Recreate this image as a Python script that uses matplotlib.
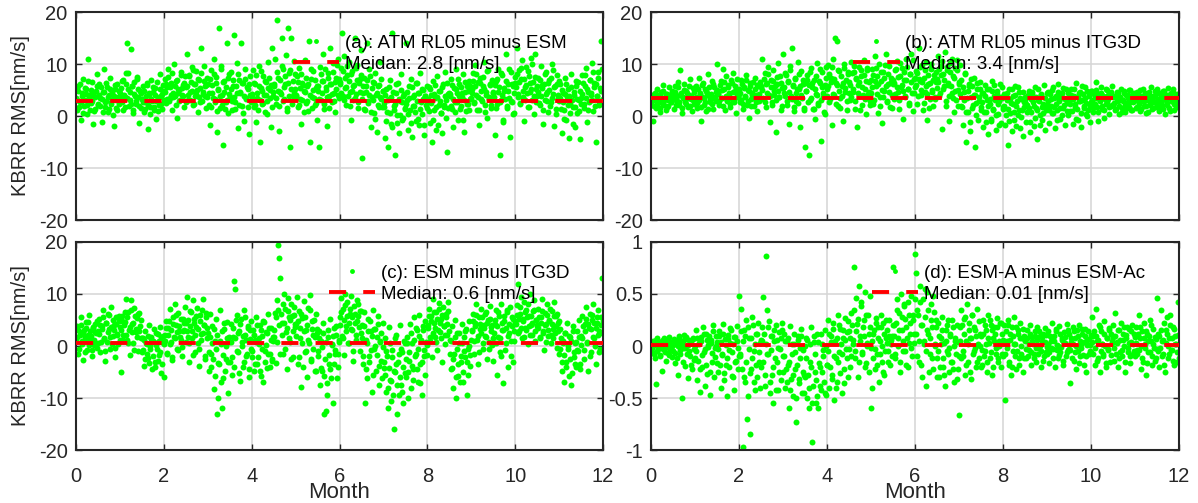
import numpy as np
import matplotlib
matplotlib.use("Agg")
import matplotlib.pyplot as plt
from matplotlib.lines import Line2D

plt.rcParams['font.family'] = ['Liberation Sans', 'DejaVu Sans']
plt.rcParams['axes.unicode_minus'] = False

month_ticks = [0, 2, 4, 6, 8, 10, 12]

# KBRR RMS differences over one year: two sample sets (am / pm), 20 samples
# per half month each. Panels a-c stored in 0.1 nm/s, panel d in 0.01 nm/s.
diff_atm_esm_am = [
    35, 12, 58, 27, -8, 44, 71, 19, 30, 52, 3, 110, 41, 25, 66, -15, 38, 14, 49, 80,
    22, 61, 34, -11, 47, 90, 18, 29, 55, 7, 40, 73, 26, 33, -20, 51, 16, 62, 37, 24,
    45, 28, 67, 12, 36, 83, 140, 52, 19, 31, 128, 58, 6, 42, 24, 71, 37, -14, 49, 15,
    33, 57, 8, 26, 64, -25, 41, 18, 70, 29, 47, 11, 53, -6, 35, 22, 81, 39, 14, 60,
    48, 72, 25, 56, 91, 34, 63, 12, 44, 100, 38, 67, -4, 52, 29, 85, 41, 59, 18, 76,
    55, 120, 31, 78, 46, 94, 22, 61, 39, 87, 50, 8, 69, 27, 130, 43, 97, 58, 15, 36,
    62, 21, -18, 89, 44, 110, 33, 75, -30, 52, 170, 15, 96, 40, -55, 68, 27, 140, 5, 81,
    37, 84, 12, 58, 155, 26, 101, -24, 70, 45, 140, 19, 63, -9, 91, 34, 52, -35, 77, 29,
    43, 88, 17, 61, -12, 35, 97, -50, 54, 23, 76, 41, 8, 66, 29, 104, 50, -21, 130, 38,
    57, 110, 24, 185, 73, -28, 46, 150, 90, 33, 61, 118, 15, 170, 82, -60, 150, 39, 105, 52,
    41, 76, 18, 93, 32, -16, 64, 49, 108, 25, 57, 10, 145, -50, 71, 36, 86, 22, 53, -8,
    48, -60, 95, 31, 67, 120, 14, 56, -19, 83, 39, 130, 62, 27, 101, 45, 7, 74, 110, 35,
    66, 92, 160, 38, 115, 54, 21, 79, 103, 47, -8, 86, 31, 60, 150, 42, 98, 15, 71, 127,
    -80, 44, 73, 12, 58, 140, 29, 91, -22, 36, 65, 5, 82, 40, -31, 57, 18, 104, 33, 49,
    25, -42, 51, 8, -60, 33, 70, -15, 160, 19, -75, 44, 2, 63, -33, 28, 80, -8, 39, 14,
    140, 31, -26, 57, 11, 72, -41, 36, 20, -9, 64, 45, -18, 83, 27, 3, 50, -37, 38, 16,
    29, 56, -14, 41, -50, 68, 12, 35, -27, 77, 22, 48, 5, -33, 61, 17, 84, 31, -70, 43,
    38, 71, 14, -22, 53, 27, 90, 45, -8, 62, 19, 36, 81, -30, 47, 9, 58, 24, 67, 33,
    51, 82, 26, 99, 40, 12, 65, -17, 74, 33, 57, 104, 21, 46, -4, 88, 37, 61, 15, 70,
    44, -36, 67, 23, 91, 55, -75, 31, 78, -12, 49, 120, 16, 62, 35, -41, 84, 27, 58, 6,
    63, 130, 42, 89, 25, 71, 108, 36, -9, 55, 94, 18, 77, 47, 112, 30, 66, 3, 120, 52,
    39, 73, 21, 96, 54, -15, 62, 31, 85, 46, 8, 69, 27, 100, 43, -20, 58, 14, 78, 35,
    28, 61, -33, 45, 12, 73, -8, 36, 52, -42, 24, 80, 17, 40, -22, 57, 5, 66, 31, -45,
    34, 79, 16, 58, 92, -12, 47, 26, 70, 41, 101, 9, 63, -50, 38, 85, 22, 54, 145, 30,
]
diff_atm_esm_pm = [
    31, 48, 17, 62, 26, 39, 5, 54, 43, 21, 68, 34, 12, 50, 29, 45, 9, 37, 58, 24,
    41, 19, 56, 32, 8, 47, 27, 63, 36, 14, 52, 23, 44, 2, 38, 59, 30, 11, 49, 35,
    53, 27, 70, 40, 18, 61, 35, 82, 46, 24, 57, 12, 66, 39, 29, 75, 51, 20, 44, 33,
    26, 49, 13, 38, 60, 22, 45, 4, 33, 55, 17, 41, 28, 66, 10, 36, 52, 24, 43, 31,
    47, 62, 33, 75, 28, 55, 41, 83, 36, 58, 21, 69, 44, 50, 31, 78, 53, 39, 64, 26,
    58, 40, 76, 31, 65, 49, 88, 24, 61, 43, 71, 36, 54, 82, 28, 47, 67, 38, 59, 73,
    44, 72, 18, 59, 35, 81, 26, 63, 9, 50, 38, 90, 22, 66, 47, 13, 55, 31, 74, 42,
    52, 28, 69, 37, 14, 58, 44, 80, 21, 47, 63, 6, 39, 72, 33, 55, 18, 61, 41, 26,
    36, 64, 21, 79, 45, 12, 57, 30, 86, 49, 25, 68, 40, 3, 53, 74, 34, 60, 17, 46,
    61, 35, 84, 48, 19, 70, 43, 96, 29, 56, 77, 10, 64, 38, 89, 51, 24, 67, 45, 80,
    38, 66, 22, 54, 81, 31, 59, 8, 47, 73, 28, 62, 41, 90, 16, 50, 35, 69, 25, 57,
    57, 33, 80, 45, 68, 24, 91, 50, 37, 74, 16, 62, 43, 85, 29, 66, 52, 98, 40, 71,
    62, 44, 87, 30, 73, 55, 96, 38, 67, 20, 81, 49, 58, 35, 92, 70, 26, 63, 46, 78,
    33, 58, 14, 47, 69, 25, 40, 76, 8, 53, 30, 64, -6, 44, 21, 60, 37, 71, 18, 49,
    18, 41, -9, 30, 55, 6, 36, -22, 47, 12, 24, 62, -14, 33, 2, 50, 27, -4, 42, 15,
    24, 47, 3, 35, -13, 56, 19, 40, 8, 63, 29, -5, 44, 14, 52, 32, -18, 38, 21, 58,
    32, 10, 51, 25, -8, 42, 60, 18, 36, -17, 48, 28, 6, 55, 22, 39, -3, 64, 15, 45,
    42, 20, 60, 33, 8, 51, 27, 71, 38, 14, 56, 45, -7, 30, 66, 24, 48, 11, 57, 35,
    44, 68, 25, 57, 80, 36, 12, 63, 48, 29, 75, 52, 7, 40, 86, 33, 59, 21, 66, 47,
    37, 60, 15, 72, 46, 26, 83, 41, -8, 54, 32, 67, 20, 49, 90, 29, 62, 4, 44, 75,
    55, 81, 36, 66, 24, 92, 49, 71, 30, 60, 45, 87, 18, 63, 52, 100, 39, 75, 27, 58,
    46, 25, 70, 38, 59, 12, 81, 43, 29, 64, 50, 20, 73, 35, 88, 55, 3, 61, 41, 67,
    35, 14, 50, 26, -6, 43, 62, 21, 38, 5, 55, 30, -15, 46, 18, 67, 33, 9, 48, 24,
    42, 63, 24, 78, 35, 51, 12, 69, 44, 30, 85, 56, 19, 61, 38, 74, 27, 49, 90, 33,
]

diff_atm_itg_am = [
    22, 41, -10, 33, 15, 52, 28, 37, 8, 46, 25, 60, 31, 12, 43, 19, 55, 35, 27, 48,
    38, 14, 57, 29, 66, 21, 88, 45, 5, 34, 62, 26, 49, 17, 40, 71, 32, 10, 53, 24,
    30, 58, 16, 74, 42, -10, 36, 63, 22, 51, 9, 45, 80, 27, 39, 68, 13, 55, 33, 47,
    100, 44, 21, 67, 35, 90, 52, 11, 76, 28, 59, 40, 18, 63, 82, 31, 48, 6, 71, 37,
    43, 26, 69, 14, 55, 37, 78, 22, 50, -3, 64, 32, 45, 19, 73, 40, 9, 58, 29, 66,
    57, 110, 33, 82, 18, 64, 95, 41, -12, 70, 26, 88, 49, -30, 61, 102, 37, 76, 12, 53,
    120, 45, 83, 21, 67, -15, 96, 38, 130, 58, 9, 74, 29, 104, 51, -22, 87, 35, 62, 16,
    -60, 48, 79, -75, 31, 92, 56, 13, 70, -5, 42, 101, 25, 64, -48, 85, 37, 7, 59, 94,
    52, 98, 27, 74, -18, 110, 41, 150, 63, 145, 19, 86, 35, 57, -9, 92, 46, 70, 11, 80,
    66, 30, 103, 47, 84, 14, 72, -21, 59, 95, 38, 77, 22, 108, 51, 3, 89, 43, 65, 28,
    45, 91, 24, 115, 58, 77, 6, 100, 36, 68, -13, 84, 49, 120, 29, 62, 97, 17, 73, 40,
    61, 32, 88, 105, 47, 14, 76, 56, 93, -6, 69, 38, 110, 52, 25, 81, 120, 44, 10, 71,
    55, 87, 23, 130, 68, 40, 98, 12, 74, 46, 104, -8, 61, 33, 91, 50, 19, 79, 37, 65,
    72, 115, 38, 96, -25, 81, 57, 124, 20, 88, 63, -10, 102, 45, 77, 8, 93, 31, 108, 50,
    66, 98, 20, -18, 47, 82, -50, 34, 8, 58, -28, 71, 15, 40, -60, 25, 63, -8, 37, 52,
    18, 44, -21, 59, 7, 31, -35, 52, 24, -9, 67, 12, 38, -27, 48, 3, 29, 61, -14, 35,
    14, 42, -18, 30, -55, 51, 6, 25, -29, 38, -7, 57, 20, 2, 46, -24, 33, 11, -38, 27,
    36, -12, 21, 49, -31, 8, 43, 27, -20, 55, 15, -45, 31, 1, 40, -8, 24, 60, -26, 12,
    22, 47, -14, 33, 5, 56, 18, -23, 39, 11, 61, 28, -6, 44, 16, 35, -18, 51, 25, 2,
    31, 9, 52, -16, 38, 24, 63, 14, -8, 45, 29, -21, 57, 20, 34, 3, 48, 12, 41, -11,
    26, 48, 8, 35, 65, 17, -9, 42, 30, 55, 13, 38, -4, 23, 50, 33, 4, 44, 19, 58,
    21, 39, 11, 47, 28, 3, 35, 52, 16, 30, 44, 7, 25, 41, 18, 50, 33, 12, 27, 45,
    34, 15, 46, 24, 9, 38, 29, 51, 19, 43, 5, 31, 40, 22, 55, 13, 36, 27, 48, 17,
    28, 44, 10, 36, 21, 49, 32, 4, 40, 25, 53, 16, 38, 29, 47, 12, 33, 20, 42, 26,
]
diff_atm_itg_pm = [
    28, 35, 19, 44, 31, 24, 40, 15, 37, 29, 48, 22, 33, 42, 18, 30, 38, 26, 45, 32,
    33, 47, 22, 38, 55, 27, 41, 16, 36, 50, 30, 24, 44, 35, 58, 20, 39, 31, 46, 26,
    37, 25, 52, 30, 44, 18, 59, 34, 27, 48, 40, 14, 55, 32, 42, 23, 62, 36, 29, 50,
    42, 28, 60, 35, 50, 19, 66, 38, 31, 55, 45, 24, 70, 33, 47, 26, 58, 40, 36, 52,
    45, 31, 62, 24, 53, 38, 70, 29, 48, 57, 20, 41, 66, 35, 51, 27, 60, 43, 33, 55,
    50, 34, 71, 27, 62, 45, 80, 38, 55, 22, 67, 41, 58, 30, 75, 48, 36, 64, 19, 53,
    55, 38, 78, 29, 66, 47, 88, 33, 60, 17, 72, 44, 52, 25, 81, 58, 40, 69, 12, 63,
    48, 70, 26, 59, 84, 35, 63, 14, 52, 76, 41, 21, 67, 90, 31, 56, 45, 3, 73, 38,
    57, 80, 33, 66, 95, 42, 71, 24, 60, 88, 49, 15, 76, 38, 64, 100, 53, 29, 84, 45,
    60, 37, 82, 51, 96, 28, 73, 44, 65, 12, 88, 55, 40, 78, 33, 68, 92, 47, 21, 70,
    55, 78, 30, 67, 92, 43, 62, 20, 85, 50, 37, 73, 98, 58, 26, 80, 46, 66, 15, 70,
    64, 42, 90, 55, 75, 30, 102, 60, 48, 85, 36, 70, 95, 52, 22, 80, 66, 108, 44, 73,
    60, 83, 38, 72, 95, 50, 66, 25, 88, 57, 42, 78, 15, 63, 100, 47, 70, 33, 85, 54,
    66, 90, 44, 78, 105, 52, 70, 28, 95, 60, 38, 84, 58, 110, 35, 73, 48, 88, 20, 62,
    42, 70, 18, 55, 30, 80, 8, 48, 62, -12, 36, 58, 22, 74, 40, 2, 52, 28, 66, 12,
    26, 45, 8, 38, -12, 52, 20, 33, -5, 48, 14, 60, 30, 2, 42, 24, -18, 36, 55, 17,
    20, 38, 2, 45, 14, -10, 32, 52, 24, 8, 40, -20, 28, 56, 12, 35, -2, 46, 18, 30,
    24, 8, 40, 15, -12, 32, 47, 20, -4, 36, 12, 52, 28, -18, 42, 18, 5, 34, 22, 45,
    28, 12, 42, 20, 50, 5, 35, 24, -8, 46, 30, 15, 38, 2, 54, 22, 33, 10, 44, 26,
    24, 40, 10, 32, 52, 18, -5, 36, 28, 46, 6, 30, 42, 16, 55, 25, 0, 38, 20, 48,
    30, 16, 42, 24, 50, 35, 8, 28, 45, 20, 38, 12, 33, 52, 26, 40, 18, 46, 22, 36,
    25, 38, 14, 32, 45, 20, 36, 8, 28, 48, 22, 40, 16, 34, 50, 26, 12, 42, 30, 37,
    30, 18, 42, 26, 50, 14, 36, 28, 44, 20, 33, 8, 46, 24, 38, 31, 16, 40, 27, 52,
    32, 20, 45, 26, 38, 14, 48, 30, 22, 41, 35, 10, 44, 28, 52, 24, 36, 18, 40, 30,
]

diff_esm_itg_am = [
    12, 38, -15, 27, 55, 4, -26, 31, 17, 46, -8, 22, 60, 9, -19, 35, 1, 42, 25, -4,
    28, 51, -12, 39, 70, 14, -29, 45, 8, 62, 33, -5, 75, 19, 41, -21, 56, 24, 3, 48,
    36, -50, 58, 21, 47, 90, 12, 66, 30, -18, 88, 42, 5, 74, 27, 53, -9, 63, 38, 16,
    -12, 15, -38, 29, 3, -24, 41, -6, 18, -45, 10, 33, -30, 1, 24, -17, 37, -52, 7, 20,
    -60, 22, 48, -14, 35, 71, 8, -27, 56, 17, 80, 40, -5, 63, 29, 12, -20, 52, 31, 75,
    44, 95, 18, -31, 67, 29, 88, 52, -12, 36, 74, 6, -38, 59, 23, 90, 41, -20, 63, 15,
    25, -48, 61, -15, 38, -82, 10, 52, -130, -100, -35, 70, 4, -120, -62, 33, -25, 47, -90, 17,
    -30, 42, -55, 18, 125, 110, 60, -12, 28, -68, 51, 7, -40, 70, 22, -20, 35, -60, 14, 48,
    -22, 31, -48, 12, 55, -35, 4, 40, -58, 20, -70, 47, -9, 26, -42, 61, -15, 35, -28, 9,
    18, 63, -32, 88, 195, 170, 130, 45, -15, 100, 72, 27, -45, 92, 55, 8, 80, -22, 60, 36,
    42, 95, -35, 68, 15, -78, 53, 86, -12, 30, -60, 74, 5, 99, -25, 48, 21, -48, 62, 33,
    -20, 28, -75, 10, -48, 45, -130, -125, -95, 18, -35, 52, -62, 3, -110, 35, -15, 22, -40, 8,
    55, 92, 20, 71, -18, 100, 38, 84, 5, 62, 97, 30, -28, 76, 45, 12, 88, 58, -10, 68,
    40, -35, 65, -110, 12, -62, 52, -20, 28, -88, 70, -5, 33, -48, 18, 58, -75, 8, -28, 45,
    -42, 15, -88, -20, -120, 36, -65, -105, -8, -160, -50, 22, -130, -30, -95, 40, -75, -12, -110, 5,
    -60, 18, -100, -28, 42, -80, 5, -45, 55, -15, 30, -70, 60, -35, 12, -95, 38, -20, 48, 2,
    35, 72, 10, 58, -22, 90, 44, 18, 66, -8, 82, 27, 51, -30, 75, 39, 3, 62, 22, 85,
    12, -45, 38, -80, -15, 50, -100, 25, -58, 5, -30, 42, -70, 18, -22, 32, -95, -5, 48, -38,
    28, 61, -15, 45, 80, 12, -35, 55, 33, 72, -5, 40, 20, 66, -25, 50, 8, 77, 36, 2,
    -28, 42, 70, -55, 18, 58, -12, 80, 30, -72, 48, 5, 65, -40, 25, 75, -20, 38, 52, 10,
    45, 78, 120, 28, 62, 95, 15, 52, 85, 35, 70, 3, 58, 100, 40, 22, 67, 88, 10, 50,
    38, 72, 15, 55, 90, 28, -8, 64, 42, 80, 20, 48, 6, 68, 33, 85, 25, 58, -4, 45,
    -15, 32, -48, 10, -70, 25, -30, 45, -5, -58, 18, -75, 38, -22, 5, -40, 28, -10, 50, -35,
    20, 58, -25, 42, 75, 8, -48, 35, 62, -12, 50, 80, 15, -35, 45, 70, 28, -5, 55, 130,
]
diff_esm_itg_pm = [
    18, 30, -5, 22, 40, 9, 25, -12, 34, 14, 46, 2, 28, 20, -8, 37, 11, 26, 48, 6,
    24, 40, 8, 33, 55, 15, -10, 45, 27, 60, 18, 36, 4, 50, 30, -3, 42, 22, 58, 12,
    30, 48, 12, 40, 65, 22, 55, 5, 36, 70, 26, 44, -8, 58, 33, 18, 62, 28, 50, 15,
    -8, 12, -25, 5, -15, 20, -32, 0, 14, -20, 8, -40, 25, -5, -28, 10, -12, 18, -35, 3,
    10, 35, -15, 22, 48, 4, 30, -22, 42, 15, 60, 26, -8, 38, 18, 52, -2, 28, 45, 8,
    28, 50, 5, 38, 66, 15, -18, 44, 22, 58, 32, -6, 48, 12, 70, 25, 40, -25, 55, 35,
    -12, 18, -40, 5, -25, 32, -58, -5, 22, -32, 10, -70, 28, -18, 45, -48, 0, 15, -30, 8,
    8, -22, 35, -40, 15, 50, -10, 25, -52, 42, 0, 20, -30, 55, 12, -15, 38, -45, 30, -5,
    -10, 22, -35, 8, 40, -22, 15, -48, 30, -5, 48, -30, 2, 25, -15, 35, -40, 12, -25, 18,
    30, 55, 8, 70, 40, -15, 62, 22, 80, 45, -5, 35, 68, 15, 50, -25, 58, 28, 75, 42,
    20, 48, -22, 35, 62, 5, -40, 28, 55, -10, 40, 12, 70, -28, 32, -5, 50, 18, -48, 25,
    -10, 15, -42, -2, 25, -58, -25, 8, -72, 30, -18, -45, 2, 20, -35, -8, 38, -62, -15, 12,
    40, 65, 15, 50, 78, 28, 58, 5, 45, 72, 32, 55, -10, 62, 22, 48, 80, 36, 68, 25,
    15, -20, 38, -45, 5, 28, -30, 48, -8, 20, -55, 32, 0, -18, 42, -38, 10, 25, -62, -2,
    -30, -55, -10, -80, -42, 5, -68, -22, -95, -48, 15, -35, -75, -15, -60, -5, -88, -40, 10, -52,
    -25, 5, -50, -12, 25, -38, -65, 12, -20, 35, -45, -5, 20, -72, -30, 30, -8, -55, 8, -18,
    40, 58, 18, 48, 25, 66, 35, 8, 52, 30, 72, 45, 15, 60, 38, 22, 55, 42, 68, 28,
    -15, 10, -42, -25, 18, -60, -5, -35, 25, -70, -20, 5, -50, -10, 28, -30, -55, 0, -18, 12,
    30, 48, 10, 38, 60, 20, -12, 42, 25, 55, 5, 35, 62, 18, 45, -5, 52, 28, 40, 15,
    25, 50, 5, 38, 65, 15, -20, 45, 30, 58, -8, 35, 70, 20, 42, 10, 55, -30, 28, 48,
    42, 60, 25, 52, 75, 35, 48, 18, 65, 30, 55, 80, 38, 22, 58, 45, 70, 28, 50, 40,
    35, 55, 18, 45, 68, 25, 40, 8, 60, 30, 50, 72, 22, 42, 15, 58, 38, 62, 28, 48,
    -5, 15, -30, 5, -18, 25, -40, 0, 20, -25, 10, -52, 28, -12, -35, 8, -8, 18, -45, 2,
    15, 38, -8, 28, 52, 5, 42, -20, 32, 60, 18, 45, 0, 35, 55, 22, -12, 40, 25, 48,
]

diff_esma_esmac_am = [
    2, -6, 5, -12, -37, 8, -3, 1, -9, 4, -24, 6, -1, -14, 3, -7, 9, -4, 0, -11,
    -5, 7, -16, 2, -28, 10, -8, 4, -50, -2, 11, -19, 0, -31, 6, -10, 3, -22, 8, -13,
    -12, 15, -33, 3, -44, 9, -20, 18, -6, -38, 12, -27, 1, -47, 6, -15, 20, -30, -2, 10,
    4, -25, 14, -40, -9, 21, -33, 7, -18, -48, 11, -4, 17, -29, 2, -42, 9, -14, 19, -22,
    48, -10, 36, -97, 15, -35, 25, -70, -48, 8, -85, -22, 28, -5, -42, 12, -30, 22, -15, 3,
    -20, 18, 47, -38, 87, 35, -8, 24, -45, 10, -28, -55, 5, 20, -15, -42, 13, -3, -33, 15,
    -25, 12, -40, 5, -18, -60, 19, -32, -8, -48, 2, -22, -73, 10, -36, -12, 16, -45, -4, -28,
    -30, 8, -50, -60, -15, 18, -92, -38, 4, -25, -55, 12, -60, -20, -42, 2, -10, -35, 15, -47,
    -18, 25, -40, 10, -28, 22, -52, 5, -12, -35, 30, -6, 16, -45, 8, -22, 27, -3, 13, -30,
    14, -20, 32, 6, 76, -12, 46, 21, -30, 58, 10, 38, -6, 25, 52, -16, 3, 30, -25, 18,
    -60, -40, 12, -22, 27, -8, 18, -35, 5, 30, -15, 22, -28, 8, 15, -5, 25, -18, 2, 10,
    76, 20, -12, 45, 8, 32, -25, 50, 15, -5, 38, 26, -18, 42, 3, 22, 48, -10, 30, 12,
    88, 70, 35, -15, 58, 20, -30, 45, 5, 28, -38, 52, 12, -8, 40, 18, -22, 33, 2, 25,
    -12, 22, -30, 8, 28, -20, 3, -38, 15, -5, 25, -25, 10, -15, 18, -35, 5, -8, 20, -22,
    -66, 18, 35, -10, 26, -28, 5, 40, -15, 22, 8, -32, 30, -5, 15, -20, 36, 2, -12, 12,
    10, -18, 25, -5, 15, -25, 30, 3, -12, 20, -28, 8, 18, -8, 27, -15, 5, 22, -20, 12,
    -10, 20, -52, 5, 25, -18, 12, -28, 18, -5, 28, 2, -22, 15, -12, 22, -8, 8, -25, 10,
    6, -12, 15, -4, 20, -18, 9, 2, -8, 14, -15, 18, -2, 10, -20, 5, 12, -10, 17, -6,
    -8, 14, -16, 5, 22, -3, 10, -20, 16, 1, -12, 19, -6, 8, -18, 13, 3, -10, 21, -4,
    12, -36, 4, 18, -14, 8, -22, 15, -5, 20, -10, 2, 16, -18, 10, -25, 6, 14, -8, 1,
    -6, 28, 10, -18, 36, 5, -12, 20, -25, 14, 2, -8, 24, -20, 8, -3, 17, -15, 12, 3,
    9, -14, 32, 3, -20, 15, -6, 22, -10, 6, 18, -25, 11, -2, 16, -16, 4, 20, -8, 12,
    -10, 18, -4, 30, 8, -22, 14, -15, 22, 2, -28, 12, -6, 25, 5, -18, 16, -2, 9, -12,
    46, 12, -20, 35, 5, -8, 22, -25, 15, 28, -12, 8, 30, -4, 18, -18, 10, 2, -15, 42,
]
diff_esma_esmac_pm = [
    -2, 4, -8, 1, 6, -5, 3, -10, 0, 5, -3, 8, -6, 2, -1, 7, -9, 4, -4, 1,
    3, -7, 5, -12, 0, 8, -4, 2, -15, 6, -2, 9, -8, 1, -5, 4, -18, 7, -3, 0,
    -5, 8, -14, 2, -22, 5, -9, 12, -3, -18, 6, -1, 10, -25, 3, -7, 14, -11, 0, -16,
    -3, 10, -18, 4, -8, 12, -26, 1, -12, 7, -20, 3, 15, -6, -30, 9, -15, 5, -2, -10,
    -8, 14, -22, 5, -30, 10, -15, 18, -3, -26, 8, -12, 20, -35, 2, -18, 12, -6, -40, 6,
    5, -15, 12, -28, 2, -8, 18, -35, -4, 10, -20, 15, -12, -42, 6, -2, -25, 8, 22, -10,
    -10, 5, -22, -35, 8, -15, -42, 2, -28, 12, -6, -50, -18, 6, -32, -2, 10, -25, -45, 0,
    -12, 6, -28, -40, 2, -20, -55, 10, -8, -33, -48, 4, -16, -38, 12, -25, -4, -45, 0, -18,
    -5, 12, -20, 4, -32, 16, -10, -40, 8, -15, 20, -26, 2, -8, 15, -36, 6, -12, 24, -3,
    8, -10, 20, 2, 35, -5, 14, 26, -15, 5, 42, -8, 18, 10, -20, 30, 0, 12, 48, -2,
    5, -12, 15, -3, 22, -18, 8, -8, 18, 0, -25, 12, -5, 25, 3, -15, 10, 6, -10, 20,
    10, -8, 22, 35, 0, 15, -15, 28, 5, 40, -5, 18, 8, -20, 30, 12, -2, 25, 3, 45,
    12, -10, 30, 5, 42, -18, 20, 2, 55, -5, 15, 35, -25, 8, 25, -12, 48, 0, 18, -30,
    -5, 10, -20, 2, 15, -12, -28, 5, 20, -8, -2, 12, -15, 25, -22, 0, 8, -32, 4, -10,
    5, -12, 20, -5, 12, 28, -18, 2, 15, -25, 8, 30, -8, 18, -2, 10, -15, 24, 0, -20,
    -4, 12, -10, 20, 2, -15, 8, 25, -6, 15, -20, 5, 12, -2, 18, -12, 0, 22, -8, 6,
    4, -8, 14, -2, 20, -15, 6, -20, 10, 2, -10, 18, -5, 12, -18, 8, 0, 16, -12, 5,
    -3, 8, -10, 2, 12, -6, 5, -12, 10, -2, 6, -8, 14, 0, -5, 9, -14, 4, 11, -1,
    2, -6, 10, -2, 8, -12, 5, 14, -4, 0, -9, 12, -1, 6, -14, 3, 9, -6, 15, -3,
    -4, 8, -12, 2, 14, -6, 0, 10, -16, 5, -2, 12, -9, 4, 16, -10, 1, 7, -5, 11,
    4, -8, 14, -2, 10, -14, 6, 18, -5, 2, -10, 12, 0, -16, 8, -4, 15, -9, 5, 20,
    -2, 10, -8, 4, 15, -12, 6, -4, 12, 0, -15, 8, 18, -6, 3, -10, 14, 2, -5, 9,
    3, -8, 12, -4, 18, 0, -12, 8, -2, 14, -16, 5, 10, -6, 20, -10, 2, -14, 7, -3,
    -5, 10, -2, 15, -10, 6, -18, 3, 12, 0, -8, 20, -4, 8, -14, 16, 2, -6, 11, -12,
]

value_scales = [0.1, 0.1, 0.1, 0.01]
medians = [2.8, 3.4, 0.6, 0.01]
series_labels = [
    "(a): ATM RL05 minus ESM",
    "(b): ATM RL05 minus ITG3D",
    "(c): ESM minus ITG3D",
    "(d): ESM-A minus ESM-Ac",
]
median_words = ["Meidan", "Median", "Median", "Median"]
y_limits = [(-20, 20), (-20, 20), (-20, 20), (-1, 1)]
y_ticks = [
    [-20, -10, 0, 10, 20],
    [-20, -10, 0, 10, 20],
    [-20, -10, 0, 10, 20],
    [-1, -0.5, 0, 0.5, 1],
]
y_ticklabels = [
    ["-20", "-10", "0", "10", "20"],
    ["-20", "-10", "0", "10", "20"],
    ["-20", "-10", "0", "10", "20"],
    ["-1", "-0.5", "0", "0.5", "1"],
]

series = [
    (diff_atm_esm_am, diff_atm_esm_pm),
    (diff_atm_itg_am, diff_atm_itg_pm),
    (diff_esm_itg_am, diff_esm_itg_pm),
    (diff_esma_esmac_am, diff_esma_esmac_pm),
]

GREEN = "#00ff00"
RED = "#ff0000"
INK = "#262626"

fig = plt.figure(figsize=(11.98, 5.03), dpi=100)
W, H = 1198.0, 503.0
boxes = [
    (76, 12, 527, 208),
    (651, 12, 528, 208),
    (76, 242, 527, 208),
    (651, 242, 528, 208),
]
legend_x = [0.412, 0.383, 0.48, 0.418]

for i, (x0, y0, w, h) in enumerate(boxes):
    ax = fig.add_axes([x0 / W, 1 - (y0 + h) / H, w / W, h / H])
    am = np.asarray(series[i][0], dtype=float) * value_scales[i]
    pm = np.asarray(series[i][1], dtype=float) * value_scales[i]
    n = len(am)
    step = 12.0 / n
    t_am = (np.arange(n) + 0.25) * step
    t_pm = (np.arange(n) + 0.75) * step

    for t, v in ((t_am, am), (t_pm, pm)):
        ax.plot(t, v, ls="none", marker="o", ms=4.3, color=GREEN, mec="none", zorder=2)
    med_line = ax.axhline(medians[i], color=RED, lw=2.8, dashes=(4.4, 4.4), zorder=3)

    ax.set_xlim(0, 12)
    ax.set_ylim(*y_limits[i])
    ax.set_xticks(month_ticks)
    ax.set_yticks(y_ticks[i])
    ax.set_yticklabels(y_ticklabels[i])
    if i < 2:
        ax.set_xticklabels([])
    else:
        ax.set_xlabel("Month", fontsize=16, color=INK, labelpad=-3)
    if i % 2 == 0:
        ax.set_ylabel("KBRR RMS[nm/s]", fontsize=14.5, color=INK, labelpad=6)

    ax.grid(True, color="#d5d5d5", lw=1.1)
    ax.set_axisbelow(True)
    for sp in ax.spines.values():
        sp.set_color(INK)
        sp.set_linewidth(1.5)
    ax.tick_params(direction="in", length=4, width=1.0, color=INK,
                   top=True, right=True, labelsize=14.5, labelcolor=INK)
    ax.tick_params(axis="x", pad=12)
    ax.tick_params(axis="y", pad=6)

    dot_handle = Line2D([], [], ls="none", marker="o", ms=3.5, color=GREEN, mec="none")
    leg = ax.legend(
        [dot_handle, med_line],
        [series_labels[i], f"{median_words[i]}: {medians[i]:g} [nm/s]"],
        loc="upper left", bbox_to_anchor=(legend_x[i], 0.89),
        frameon=False, fontsize=13.5, handlelength=2.47, handletextpad=0.3,
        labelspacing=0.2, borderpad=0, borderaxespad=0, numpoints=1,
    )
    for txt in leg.get_texts():
        txt.set_color("black")
    leg.set_zorder(5)

fig.savefig("out.png", dpi=100)
